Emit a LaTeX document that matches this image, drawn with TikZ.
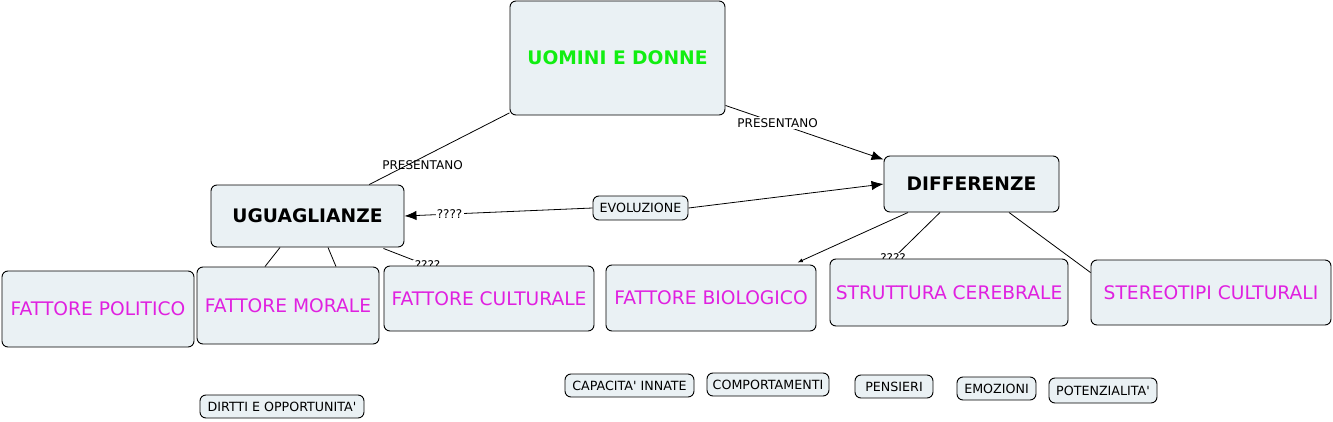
\documentclass[tikz,border=0pt]{standalone}
\usepackage{fontspec}
\setmainfont{DejaVu Sans}
\usetikzlibrary{arrows.meta,calc,backgrounds}

\definecolor{boxfill}{HTML}{EAF1F4}
\definecolor{titlegreen}{HTML}{11EE11}
\definecolor{factpink}{HTML}{E020E0}

\begin{document}
\begin{tikzpicture}[>={Latex[length=9pt,width=7pt]},x=0.75pt,y=-0.75pt,
  box/.style={draw,fill=boxfill,rounded corners=4.5pt,line width=0.7pt,inner sep=0pt},
  sz/.style 2 args={minimum width=#1*0.75pt,minimum height=#2*0.75pt},
  head/.style={box,font=\bfseries\fontsize{14}{16}\selectfont},
  fact/.style={box,text=factpink,font=\fontsize{14}{16}\selectfont},
  tag/.style={box,font=\fontsize{9.5}{11}\selectfont},
  lbl/.style={font=\fontsize{9}{10}\selectfont,inner sep=1pt},
  link/.style={line width=0.6pt}]
  \useasboundingbox (0,0) rectangle (1333,421);

  % main concepts
  \node[head,sz={215}{114},text=titlegreen] (uom) at (617.5,58) {UOMINI E DONNE};
  \node[head,sz={175}{56}] (dif) at (971.5,184) {DIFFERENZE};
  \node[head,sz={193}{62}] (ugu) at (307.5,216) {UGUAGLIANZE};
  \node[tag,sz={95}{24}] (evo) at (640.5,208) {EVOLUZIONE};

  % factors
  \node[fact,sz={192}{76}] (pol) at (98,309) {FATTORE POLITICO};
  \node[fact,sz={182}{77}] (mor) at (288,305.5) {FATTORE MORALE};
  \node[fact,sz={210}{65}] (cul) at (489,298.5) {FATTORE CULTURALE};
  \node[fact,sz={210}{66}] (bio) at (711,298) {FATTORE BIOLOGICO};
  \node[fact,sz={238}{67}] (str) at (949,292.5) {STRUTTURA CEREBRALE};
  \node[fact,sz={240}{65}] (ste) at (1211,292.5) {STEREOTIPI CULTURALI};

  % loose tags
  \node[tag,sz={164}{23}] (dir) at (282,406.5) {DIRTTI E OPPORTUNITA\textquotesingle};
  \node[tag,sz={129}{23}] (cap) at (629.5,385.5) {CAPACITA\textquotesingle{} INNATE};
  \node[tag,sz={122}{23}] (com) at (768,384.5) {COMPORTAMENTI};
  \node[tag,sz={78}{23}] (pen) at (894,386.5) {PENSIERI};
  \node[tag,sz={79}{23}] (emo) at (996.5,388.5) {EMOZIONI};
  \node[tag,sz={108}{25}] (pot) at (1103,390.5) {POTENZIALITA\textquotesingle};

  \begin{scope}[on background layer]
    \draw[link] (uom) -- node[lbl,pos=0.62,below=1pt] {PRESENTANO} (ugu);
    \draw[link,->] ($(uom.south east)+(0,-10)$) -- node[lbl,pos=0.33,fill=white] {PRESENTANO} ($(dif.north west)+(0,4)$);
    \draw[link,->] (evo.east) -- (dif.west);
    \draw[link,->] (evo.west) -- node[lbl,pos=0.76,fill=white] {????} (ugu.east);
    \draw[link] ($(ugu.south east)+(-21,1)$) -- node[lbl,pos=1,fill=white] {????} ($(cul.north west)+(44,0)$);
    \draw[link] ($(ugu.south)+(-27.5,0)$) -- ($(mor.north)+(-23,0)$);
    \draw[link] ($(ugu.south)+(20.5,0)$) -- ($(mor.north)+(48,0)$);
    \draw[link,-{Latex[length=4pt,width=3pt]}] ($(dif.south)+(-63.5,0)$) -- ($(bio.north east)+(-19,-2)$);
    \draw[link] ($(dif.south)+(-31.5,0)$) -- node[lbl,pos=1,fill=white] {????} ($(str.north)+(-56,0)$);
    \draw[link] ($(dif.south)+(37.5,0)$) -- ($(ste.north west)+(0,13)$);
  \end{scope}
\end{tikzpicture}
\end{document}
